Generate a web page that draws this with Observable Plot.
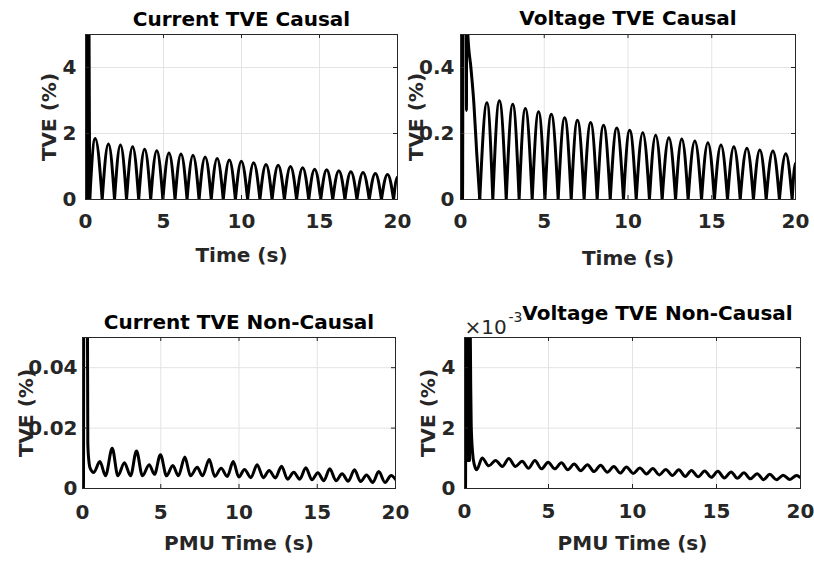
<!DOCTYPE html>
<html>
<head>
<meta charset="utf-8">
<script src="https://cdn.jsdelivr.net/npm/d3@7"></script>
<script src="https://cdn.jsdelivr.net/npm/@observablehq/plot@0.6"></script>
<style>
  body { margin: 0; background: #fff; }
  #chart { position: relative; width: 814px; height: 561px; overflow: hidden; background: #fff; }
  #chart svg { position: absolute; left: 0; top: 0; }
</style>
</head>
<body>
<div id="chart"></div>
<script>
// ---------------- DATA ----------------
const titles = ["Current TVE Causal", "Voltage TVE Causal", "Current TVE Non-Causal", "Voltage TVE Non-Causal"];
const xLabels = ["Time (s)", "Time (s)", "PMU Time (s)", "PMU Time (s)"];
const yLabel = "TVE (%)";
const exponentLabel = ["×10", "-3"];
const xTicks = [0, 5, 10, 15, 20];
const xDomain = [0, 20];

// Current TVE Causal (%)
const ccYDomain = [0, 5];
const ccYTicks = [0, 2, 4];
const ccSplit = 0.27; // start of the rectified-sine part
const ccT = [0, 0.04, 0.08, 0.12, 0.16, 0.20, 0.27,
  0.62, 1.07, 1.47, 1.86, 2.24, 2.63, 3.02, 3.41, 3.79, 4.18, 4.57, 4.96, 5.35, 5.74, 6.12, 6.51,
  6.89, 7.28, 7.67, 8.06, 8.44, 8.83, 9.22, 9.61, 9.99, 10.39, 10.78, 11.18, 11.57, 11.96, 12.35,
  12.75, 13.14, 13.53, 13.92, 14.31, 14.69, 15.08, 15.46, 15.85, 16.24, 16.63, 17.01, 17.40, 17.79,
  18.19, 18.58, 18.97, 19.36, 19.75, 20.00];
const ccV = [0, 8, 0, 8, 0, 8, 0,
  1.85, 0, 1.68, 0, 1.65, 0, 1.60, 0, 1.52, 0, 1.48, 0, 1.41, 0, 1.38, 0,
  1.34, 0, 1.29, 0, 1.24, 0, 1.20, 0, 1.16, 0, 1.11, 0, 1.06, 0, 1.04,
  0, 1.00, 0, 0.96, 0, 0.92, 0, 0.90, 0, 0.87, 0, 0.84, 0, 0.82,
  0, 0.79, 0, 0.76, 0, 0.68];

// Voltage TVE Causal (%)
const vcYDomain = [0, 0.5];
const vcYTicks = [0, 0.2, 0.4];
const vcSplit = 1.15;
const vcT = [0, 0.03, 0.06, 0.09, 0.12, 0.18, 0.33, 0.355, 0.38, 0.41, 0.44, 0.62, 0.80, 0.97, 1.15,
  1.58, 1.93, 2.32, 2.73, 3.12, 3.50, 3.87, 4.28, 4.66, 5.04, 5.42, 5.83, 6.22, 6.61, 6.98, 7.38,
  7.77, 8.16, 8.54, 8.94, 9.33, 9.73, 10.10, 10.49, 10.88, 11.28, 11.65, 12.04, 12.44, 12.84, 13.21,
  13.59, 13.99, 14.39, 14.77, 15.16, 15.55, 15.94, 16.32, 16.70, 17.10, 17.49, 17.87, 18.25, 18.65,
  19.04, 19.42, 19.80, 20.00];
const vcV = [0, 1.5, 0, 1.5, 0, 1.5, 1.5, 0.27, 1.5, 0.58, 0.50, 0.40, 0.29, 0.14, 0,
  0.293, 0, 0.299, 0, 0.289, 0, 0.276, 0, 0.266, 0, 0.258, 0, 0.248, 0, 0.240, 0,
  0.233, 0, 0.225, 0, 0.217, 0, 0.210, 0, 0.202, 0, 0.195, 0, 0.187, 0, 0.183,
  0, 0.177, 0, 0.172, 0, 0.165, 0, 0.160, 0, 0.155, 0, 0.150, 0, 0.147,
  0, 0.139, 0, 0.11];

// Current TVE Non-Causal (%)
const cnYDomain = [0, 0.05];
const cnYTicks = [0, 0.02, 0.04];
const cnT = [0, 0.03, 0.06, 0.09, 0.12, 0.30, 0.34, 0.40, 0.50, 0.72,
  1.11, 1.47, 1.90, 2.26, 2.68, 3.07, 3.45, 3.83, 4.26, 4.60, 4.98, 5.37, 5.77, 6.13, 6.54, 6.90,
  7.33, 7.67, 8.10, 8.45, 8.86, 9.25, 9.63, 9.99, 10.35, 10.76, 11.16, 11.55, 11.93, 12.32, 12.72,
  13.10, 13.50, 13.88, 14.27, 14.66, 15.04, 15.42, 15.80, 16.20, 16.59, 16.98, 17.38, 17.77, 18.15,
  18.55, 18.93, 19.33, 19.72, 20.00];
const cnV = [0, 0.08, 0, 0.08, 0.08, 0.08, 0.015, 0.0095, 0.0066, 0.0053,
  0.0089, 0.0042, 0.0133, 0.0042, 0.0085, 0.0042, 0.0124, 0.0042, 0.0079, 0.0047, 0.0112, 0.0042, 0.0076, 0.0042, 0.0104, 0.0042,
  0.0070, 0.0042, 0.0096, 0.0040, 0.0067, 0.0040, 0.0089, 0.0038, 0.0063, 0.0036, 0.0079, 0.0036, 0.0060, 0.0035, 0.0074,
  0.0031, 0.0054, 0.0031, 0.0069, 0.0029, 0.0052, 0.0026, 0.0065, 0.0026, 0.0049, 0.0024, 0.0062, 0.0023, 0.0045,
  0.0020, 0.0056, 0.0020, 0.0043, 0.0030];

// Voltage TVE Non-Causal (values in units of 10^-3 %)
const vnYDomain = [0, 5];
const vnYTicks = [0, 2, 4];
const vnT = [0, 0.03, 0.06, 0.09, 0.12, 0.15, 0.18, 0.21, 0.24, 0.27, 0.30, 0.33, 0.37, 0.40, 0.48, 0.58, 0.73,
  1.05, 1.45, 1.85, 2.25, 2.64, 3.03, 3.43, 3.81, 4.19, 4.58, 4.98, 5.37, 5.77, 6.15, 6.53, 6.92,
  7.32, 7.71, 8.10, 8.50, 8.89, 9.27, 9.64, 10.04, 10.44, 10.83, 11.21, 11.60, 11.98, 12.37, 12.76,
  13.14, 13.51, 13.91, 14.30, 14.69, 15.08, 15.47, 15.87, 16.25, 16.63, 17.02, 17.42, 17.80, 18.17,
  18.57, 18.97, 19.37, 19.76, 20.00];
const vnV = [0, 6, 0, 6, 0.93, 6, 0.93, 6, 0.93, 6, 0.93, 6, 3.4, 2.1, 1.2, 0.8, 0.62,
  1.01, 0.75, 0.93, 0.73, 0.99, 0.73, 0.90, 0.67, 0.93, 0.65, 0.87, 0.65, 0.85, 0.62, 0.81, 0.59,
  0.79, 0.56, 0.77, 0.54, 0.73, 0.51, 0.71, 0.50, 0.68, 0.48, 0.66, 0.45, 0.63, 0.43, 0.62,
  0.40, 0.60, 0.39, 0.58, 0.37, 0.57, 0.35, 0.55, 0.34, 0.52, 0.32, 0.49, 0.29, 0.47,
  0.29, 0.44, 0.30, 0.43, 0.36];

// ---------------- rectified-sine ("arch") curve for the causal panels ----------------
function ArchCurve(context) { this._context = context; }
ArchCurve.prototype = {
  areaStart() { this._line = 0; },
  areaEnd() { this._line = NaN; },
  lineStart() { this._point = 0; },
  lineEnd() {
    if (this._line || (this._line !== 0 && this._point === 1)) this._context.closePath();
    this._line = 1 - this._line;
  },
  point(x, y) {
    x = +x; y = +y;
    const c = this._context;
    if (this._point === 0) {
      this._point = 1;
      this._line ? c.lineTo(x, y) : c.moveTo(x, y);
    } else {
      this._point = 2;
      const x0 = this._x0, y0 = this._y0, dx = x - x0, dy = y - y0;
      if (dy < 0) c.bezierCurveTo(x0 + 0.326 * dx, y0 + 0.512 * dy, x0 + 0.638 * dx, y, x, y);
      else c.bezierCurveTo(x0 + 0.362 * dx, y0, x0 + 0.674 * dx, y0 + 0.488 * dy, x, y);
    }
    this._x0 = x; this._y0 = y;
  }
};
const curveArch = (context) => new ArchCurve(context);

// ---------------- layout ----------------
const W = 814, H = 561;
const FONT = "DejaVu Sans";
const INK = "#262626";
const GRID = "#e3e3e3";

function zip(T, V) { return T.map((t, i) => ({t, v: V[i]})); }

function panel(cfg) {
  const [L, T, R, B] = cfg.frame;
  const [y0, y1] = cfg.yDomain;
  const [x0, x1] = xDomain;
  const tickY = (y1 - y0) * 4 / (B - T);
  const tickX = (x1 - x0) * 4 / (R - L);
  const pts = zip(cfg.t, cfg.v);
  const lineOpts = {x: "t", y: "v", stroke: "black", strokeWidth: 3, clip: true, strokeLinejoin: "round"};
  const lines = cfg.split != null
    ? [Plot.line(pts.filter(d => d.t <= cfg.split), {...lineOpts, curve: "monotone-x"}),
       Plot.line(pts.filter(d => d.t >= cfg.split), {...lineOpts, curve: curveArch})]
    : [Plot.line(pts, {...lineOpts, curve: "monotone-x"})];
  const marks = [
    Plot.ruleX(xTicks, {stroke: GRID, strokeWidth: 1}),
    Plot.ruleY(cfg.yTicks, {stroke: GRID, strokeWidth: 1}),
    ...lines,
    Plot.frame({stroke: INK, strokeWidth: 1}),
    Plot.ruleX(xTicks, {x: d => d, y1: y0, y2: y0 + tickY, stroke: INK}),
    Plot.ruleX(xTicks, {x: d => d, y1: y1, y2: y1 - tickY, stroke: INK}),
    Plot.ruleY(cfg.yTicks, {y: d => d, x1: x0, x2: x0 + tickX, stroke: INK}),
    Plot.ruleY(cfg.yTicks, {y: d => d, x1: x1, x2: x1 - tickX, stroke: INK}),
    Plot.axisX(xTicks, {tickSize: 0, tickPadding: cfg.xPad, tickFormat: d => String(d), fill: INK, label: null}),
    Plot.axisY(cfg.yTicks, {tickSize: 0, tickPadding: cfg.yPad, tickFormat: d => String(d), fill: INK, label: null}),
    Plot.text([cfg.title], {text: d => d, frameAnchor: "top", dx: cfg.titleDx || 0, dy: cfg.titleDy, lineAnchor: "bottom", fill: "black"}),
    Plot.text([cfg.xLabel], {text: d => d, frameAnchor: "bottom", dy: cfg.xLabelDy, lineAnchor: "bottom", fill: INK}),
    Plot.text([yLabel], {text: d => d, frameAnchor: "left", dx: cfg.yLabelDx, rotate: -90, textAnchor: "middle", lineAnchor: "middle", fill: INK}),
    ...(cfg.extra || [])
  ];
  return Plot.plot({
    width: W, height: H,
    marginLeft: L, marginTop: T, marginRight: W - R, marginBottom: H - B,
    x: {domain: xDomain, axis: null},
    y: {domain: cfg.yDomain, axis: null},
    style: {fontFamily: FONT, fontSize: "20px", fontWeight: "bold", background: "transparent", overflow: "visible"},
    marks
  });
}

const chart = document.getElementById("chart");
const panels = [
  {frame: [85, 34, 397, 199], t: ccT, v: ccV, split: ccSplit, yDomain: ccYDomain, yTicks: ccYTicks,
   title: titles[0], titleDy: -9, xLabel: xLabels[0], xLabelDy: 62, yLabelDx: -36, xPad: 14, yPad: 9},
  {frame: [460, 34, 795, 199], t: vcT, v: vcV, split: vcSplit, yDomain: vcYDomain, yTicks: vcYTicks,
   title: titles[1], titleDy: -10, xLabel: xLabels[1], xLabelDy: 65, yLabelDx: -44, xPad: 14, yPad: 6},
  {frame: [82, 337, 395, 488], t: cnT, v: cnV, yDomain: cnYDomain, yTicks: cnYTicks,
   title: titles[2], titleDy: -9, xLabel: xLabels[2], xLabelDy: 61, yLabelDx: -56, xPad: 16, yPad: 5},
  {frame: [464, 337, 800, 488], t: vnT, v: vnV, yDomain: vnYDomain, yTicks: vnYTicks,
   title: titles[3], titleDy: -18, titleDx: 25, xLabel: xLabels[3], xLabelDy: 61, yLabelDx: -36, xPad: 15, yPad: 9,
   extra: [
     Plot.text([exponentLabel[0]], {text: d => d, frameAnchor: "top-left", dx: 0, dy: -4, textAnchor: "start", lineAnchor: "bottom", fill: INK, fontWeight: "normal"}),
     Plot.text([exponentLabel[1]], {text: d => d, frameAnchor: "top-left", dx: 44, dy: -16, textAnchor: "start", lineAnchor: "bottom", fill: INK, fontWeight: "normal", fontSize: 14})
   ]}
];
for (const p of panels) chart.appendChild(panel(p));
</script>
</body>
</html>
